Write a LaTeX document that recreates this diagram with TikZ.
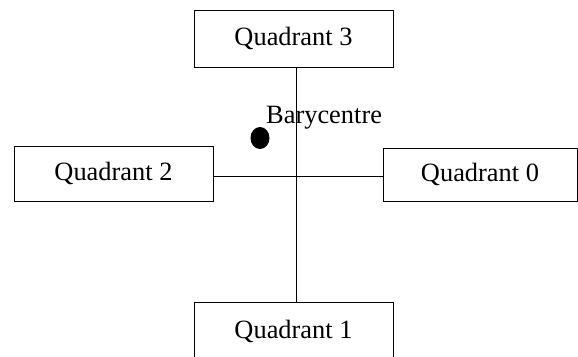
\documentclass[tikz,border=0pt]{standalone}
\usepackage{fontspec}
\setmainfont{Liberation Serif}
\begin{document}
\begin{tikzpicture}[x=1pt,y=-1pt]
            \tikzset{
                quadbox/.style={draw,line width=1pt,inner sep=0pt,minimum width=199pt,minimum height=57pt,font=\fontsize{26.4}{30}\selectfont},
                axis/.style={line width=1pt},}
            \useasboundingbox (0,0) rectangle (578,356);
            \node [quadbox] (q3) at (293.5,38.5) {Quadrant 3};
            \node [quadbox] (q1) at (293.5,331) {Quadrant 1};
            \node [quadbox,minimum height=55pt] (q2) at (113.5,173.5) {Quadrant 2};
            \node [quadbox,minimum width=194pt,minimum height=53pt] (q0) at (480,174.5) {Quadrant 0};
            \coordinate (c) at (296,176);
            \draw [axis] (c |- q3.south) -- (c |- q1.north);
            \draw [axis] (q2.east |- c) -- (q0.west |- c);
            \fill (260,138) coordinate (b) ellipse (9.5 and 11);
            \node [anchor=base west,inner sep=0pt,font=\fontsize{26.4}{30}\selectfont] (bary) at (266,123) {Barycentre};
        \end{tikzpicture}
\end{document}
